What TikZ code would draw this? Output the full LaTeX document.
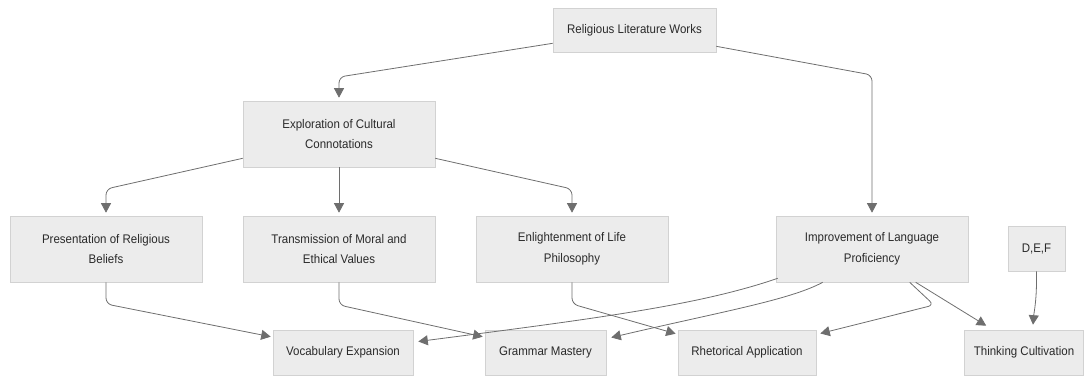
\documentclass[tikz,border=0pt]{standalone}
\usepackage{fontspec}
\setmainfont{Liberation Sans}[FakeStretch=0.92]
\usetikzlibrary{arrows.meta,shadows,calc}
\definecolor{boxfill}{HTML}{ECECEC}
\definecolor{boxline}{HTML}{D2D2D2}
\definecolor{edgecol}{HTML}{6E6E6E}
\definecolor{txtcol}{HTML}{2A2A2A}
\tikzset{
  box/.style={draw=boxline, line width=0.6pt, fill=boxfill, align=center,
    inner sep=0pt, text=txtcol, font=\fontsize{12.5}{20.5}\selectfont,
    drop shadow={shadow xshift=0.9pt, shadow yshift=-1.3pt, opacity=0.22, fill=black}},
  conn/.style={draw=edgecol, line width=0.8pt, rounded corners=6pt,
    -{Triangle[length=9.5pt,width=10pt]}},
}
\begin{document}
\begin{tikzpicture}[x=1pt,y=-1pt]
\useasboundingbox (0,0) rectangle (1084,376);
% nodes
\node[box, minimum width=163pt, minimum height=44pt] (rlw) at (634.5,30) {Religious Literature Works};
\node[box, minimum width=192pt, minimum height=66pt] (exp) at (339,134) {Exploration of Cultural\\Connotations};
\node[box, minimum width=192pt, minimum height=66pt] (pres) at (106,249) {Presentation of Religious\\Beliefs};
\node[box, minimum width=192pt, minimum height=66pt] (trans) at (339,249) {Transmission of Moral and\\Ethical Values};
\node[box, minimum width=192pt, minimum height=66pt] (enl) at (572,249) {Enlightenment of Life\\Philosophy};
\node[box, minimum width=192pt, minimum height=66pt] (imp) at (872,249) {Improvement of Language\\Proficiency};
\node[box, minimum width=57pt, minimum height=45pt] (def) at (1036.5,248.5) {D,E,F};
\node[box, minimum width=140pt, minimum height=45pt] (voc) at (343,352.5) {Vocabulary Expansion};
\node[box, minimum width=121pt, minimum height=45pt] (gram) at (545.5,352.5) {Grammar Mastery};
\node[box, minimum width=138pt, minimum height=45pt] (rhet) at (747,352.5) {Rhetorical Application};
\node[box, minimum width=119pt, minimum height=45pt] (think) at (1024,352.5) {Thinking Cultivation};
% connectors
\draw[conn] ($(rlw.south west)+(0,-9)$) -- (exp.north |- 0,77) -- ($(exp.north)+(0,-3)$);
\draw[conn] ($(rlw.south east)+(0,-6)$) -- (imp.north |- 0,75) -- ($(imp.north)+(0,-3)$);
\draw[conn] ($(exp.south west)+(0,-9)$) -- (pres.north |- 0,189) -- ($(pres.north)+(0,-3)$);
\draw[conn] (exp.south) -- ($(trans.north)+(0,-3)$);
\draw[conn] ($(exp.south east)+(0,-9)$) -- (enl.north |- 0,189) -- ($(enl.north)+(0,-3)$);
\draw[conn] (pres.south) -- (pres.south |- 0,304) -- ($(voc.north west)+(-2,7)$);
\draw[conn] (trans.south) -- (trans.south |- 0,305) -- ($(gram.north west)+(-2,7)$);
\draw[conn] (enl.south) -- (enl.south |- 0,304) -- ($(rhet.north west)+(-2,4)$);
\draw[conn, rounded corners=0pt] ($(imp.south west)+(2,-4)$) .. controls (700,305) and (600,318) .. ($(voc.east)+(5,-11)$);
\draw[conn, rounded corners=0pt] ($(imp.south west)+(47,0)$) .. controls (790,300) and (720,312) .. ($(gram.east)+(5,-15)$);
\draw[conn] ($(imp.south west)+(134,0)$) -- (934,305) -- ($(rhet.east)+(4,-19)$);
\draw[conn] ($(imp.south west)+(140,0)$) -- ($(think.north west)+(22,-4)$);
\draw[conn, rounded corners=0pt] (def.south) .. controls (1037,300) and (1034,312) .. ($(think.north)+(9,-5)$);
\end{tikzpicture}
\end{document}
